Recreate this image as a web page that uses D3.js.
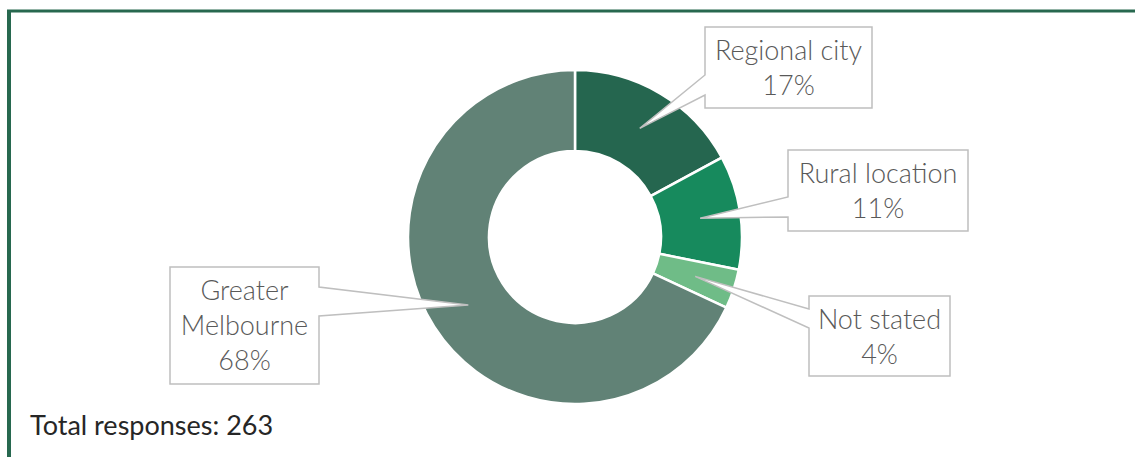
<!DOCTYPE html>
<html>
<head>
<meta charset="utf-8">
<script src="https://cdn.jsdelivr.net/npm/d3@7"></script>
<style>
  body { margin: 0; background: #fff; }
  svg { display: block; }
</style>
</head>
<body>
<div id="chart"></div>
<script>
// Data
const categories = ['Regional city', 'Rural location', 'Not stated', 'Greater Melbourne'];
const responses = [45, 29, 10, 179];
const labelLines = [['Regional city'], ['Rural location'], ['Not stated'], ['Greater', 'Melbourne']];
const colors = ['#25664f', '#178a5d', '#6fbc87', '#618276'];
const totalLabel = 'Total responses: 263';

// Layout
const w = 1135, h = 457;
const cx = 575, cy = 237;
const outerR = 167, innerR = 86;

// callout boxes: x, y, width, height, pointer side, pointer attach offsets
const callouts = [
  { x: 705, y: 27, w: 167, h: 81, side: 'left', a: 48, b: 68 },
  { x: 788, y: 150, w: 180, h: 81, side: 'left', a: 47, b: 67 },
  { x: 809, y: 296, w: 141, h: 80, side: 'left', a: 13, b: 32 },
  { x: 170, y: 267, w: 149, h: 117, side: 'right', a: 20, b: 49 },
];

const svg = d3.select('#chart')
  .append('svg')
  .attr('width', w)
  .attr('height', h);

// frame
svg.append('line')
  .attr('x1', 7).attr('x2', w).attr('y1', 11).attr('y2', 11)
  .attr('stroke', '#27684f').attr('stroke-width', 3);
svg.append('line')
  .attr('x1', 9).attr('x2', 9).attr('y1', 10).attr('y2', h)
  .attr('stroke', '#27684f').attr('stroke-width', 4);

const total = d3.sum(responses);
const data = categories.map((c, i) => ({
  name: c,
  value: responses[i],
  lines: labelLines[i].concat([Math.round(responses[i] / total * 100) + '%']),
  color: colors[i],
  box: callouts[i],
}));

const pie = d3.pie().sort(null).value(d => d.value);
const arc = d3.arc().innerRadius(innerR).outerRadius(outerR);

const g = svg.append('g').attr('transform', `translate(${cx},${cy})`);

const arcs = pie(data);

g.selectAll('path.slice')
  .data(arcs)
  .enter()
  .append('path')
  .attr('class', 'slice')
  .attr('d', arc)
  .attr('fill', d => d.data.color)
  .attr('stroke', '#fff')
  .attr('stroke-width', 2.5);

// callouts
const calloutPath = (d) => {
  const b = d.data.box;
  const [tx, ty] = arc.centroid(d);
  const px = tx + cx, py = ty + cy;
  const x0 = b.x, x1 = b.x + b.w, y0 = b.y, y1 = b.y + b.h;
  if (b.side === 'left') {
    return `M${x0},${y0}H${x1}V${y1}H${x0}V${y0 + b.b}L${px},${py}L${x0},${y0 + b.a}Z`;
  }
  return `M${x0},${y0}H${x1}V${y0 + b.a}L${px},${py}L${x1},${y0 + b.b}V${y1}H${x0}Z`;
};

const labels = svg.selectAll('g.callout')
  .data(arcs)
  .enter()
  .append('g')
  .attr('class', 'callout');

labels.append('path')
  .attr('d', calloutPath)
  .attr('fill', '#fff')
  .attr('stroke', '#bfbfbf')
  .attr('stroke-width', 1.5);

labels.each(function(d) {
  const b = d.data.box;
  const t = d3.select(this).append('text')
    .attr('text-anchor', 'middle')
    .attr('font-family', 'Lato, "Open Sans", sans-serif')
    .attr('font-weight', 300)
    .attr('font-size', 27)
    .attr('fill', '#595959');
  d.data.lines.forEach((line, i) => {
    t.append('tspan')
      .attr('x', b.x + b.w / 2)
      .attr('y', b.y + 33 + i * 35)
      .text(line);
  });
});

svg.append('text')
  .attr('x', 30)
  .attr('y', 435)
  .attr('font-family', 'Lato, "Open Sans", sans-serif')
  .attr('font-size', 27)
  .attr('fill', '#262626')
  .text(totalLabel);
</script>
</body>
</html>
